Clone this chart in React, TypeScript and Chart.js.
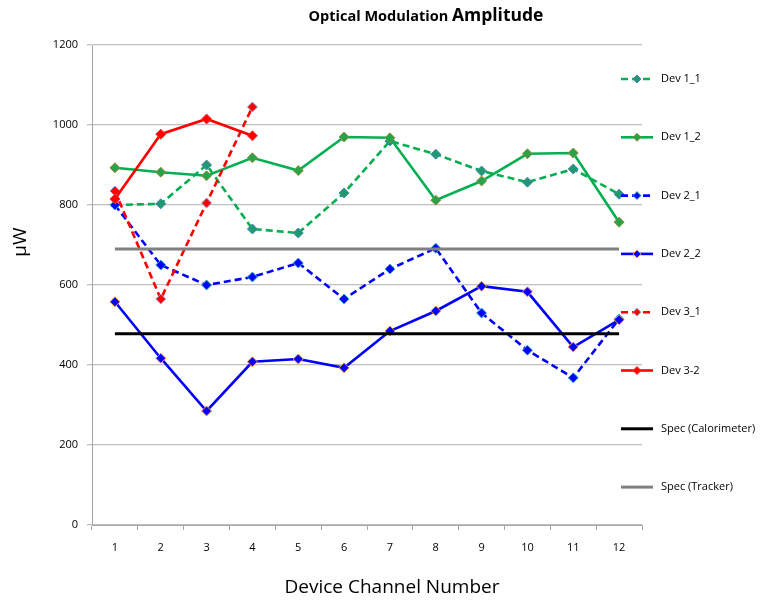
import React, { useEffect, useRef } from 'react';
import { Chart, registerables } from 'chart.js';

Chart.register(...registerables);

const CHANNELS = ['1', '2', '3', '4', '5', '6', '7', '8', '9', '10', '11', '12'];
const DEV1_1 = [800, 803, 900, 740, 730, 830, 960, 927, 885, 857, 890, 827];
const DEV1_2 = [893, 882, 873, 918, 886, 970, 968, 812, 860, 928, 930, 757];
const DEV2_1 = [800, 650, 600, 620, 655, 565, 640, 692, 530, 437, 368, 515];
const DEV2_2 = [558, 417, 285, 408, 415, 393, 485, 535, 597, 583, 445, 513];
const DEV3_1 = [835, 565, 805, 1045, null, null, null, null, null, null, null, null];
const DEV3_2 = [815, 977, 1015, 973, null, null, null, null, null, null, null, null];
const SPEC_CAL = [478, 478, 478, 478, 478, 478, 478, 478, 478, 478, 478, 478];
const SPEC_TRACKER = [690, 690, 690, 690, 690, 690, 690, 690, 690, 690, 690, 690];

const TITLE_A = 'Optical Modulation ';
const TITLE_B = 'Amplitude';
const X_TITLE = 'Device Channel Number';
const Y_TITLE = 'μW';

const FONT = '"Open Sans", Lato, sans-serif';
const GREEN = '#00B050';
const BLUE = '#0000FF';
const RED = '#FF0000';
const DASH = [7, 4];

function series(label: string, data: (number | null)[], color: string, dashed: boolean, fill: string | null, border: string | null, idx: number) {
  return {
    label,
    data,
    borderColor: color,
    backgroundColor: fill || color,
    borderWidth: 2.6,
    borderDash: dashed ? DASH : [],
    pointStyle: 'rectRot',
    pointRadius: fill ? 5 : 0,
    pointHoverRadius: fill ? 5 : 0,
    pointBackgroundColor: fill || color,
    pointBorderColor: border || color,
    pointBorderWidth: 1,
    tension: 0,
    spanGaps: false,
    fill: false,
    order: 10 - idx,
  };
}

const decorPlugin = {
  id: 'decor',
  afterDraw(chart: any) {
    const ctx = chart.ctx as CanvasRenderingContext2D;
    const area = chart.chartArea;
    ctx.save();
    // Title
    ctx.fillStyle = '#000';
    ctx.textBaseline = 'alphabetic';
    ctx.font = `bold 14.5px ${FONT}`;
    const wA = ctx.measureText(TITLE_A).width;
    ctx.font = `bold 17.5px ${FONT}`;
    const wB = ctx.measureText(TITLE_B).width;
    const cx = 426;
    const x = cx - (wA + wB) / 2;
    ctx.textAlign = 'left';
    ctx.font = `bold 14.5px ${FONT}`;
    ctx.fillText(TITLE_A, x, 21);
    ctx.font = `bold 17.5px ${FONT}`;
    ctx.fillText(TITLE_B, x + wA, 21);

    // Axis titles
    ctx.font = `19px ${FONT}`;
    ctx.textAlign = 'center';
    ctx.textBaseline = 'middle';
    ctx.fillText(X_TITLE, 392, 588);
    ctx.save();
    ctx.translate(21, 242);
    ctx.rotate(-Math.PI / 2);
    ctx.fillText(Y_TITLE, 0, 0);
    ctx.restore();

    // Legend
    const ds = chart.data.datasets;
    const x0 = area.right - 21;
    const x1 = area.right + 11;
    const mx = (x0 + x1) / 2;
    const tx = area.right + 19;
    const y0 = area.top + 34;
    const step = 58.3;
    ctx.font = `11px ${FONT}`;
    ctx.textAlign = 'left';
    ctx.textBaseline = 'middle';
    ds.forEach((d: any, i: number) => {
      const y = y0 + i * step;
      ctx.save();
      ctx.strokeStyle = d.borderColor;
      ctx.lineWidth = d.borderWidth;
      ctx.setLineDash(d.borderDash || []);
      ctx.beginPath();
      ctx.moveTo(x0, y);
      ctx.lineTo(x1, y);
      ctx.stroke();
      ctx.setLineDash([]);
      if (d.pointRadius > 0) {
        const r = 4;
        ctx.beginPath();
        ctx.moveTo(mx, y - r);
        ctx.lineTo(mx + r, y);
        ctx.lineTo(mx, y + r);
        ctx.lineTo(mx - r, y);
        ctx.closePath();
        ctx.fillStyle = d.pointBackgroundColor;
        ctx.fill();
        ctx.strokeStyle = d.pointBorderColor;
        ctx.lineWidth = 1;
        ctx.stroke();
      }
      ctx.restore();
      ctx.fillStyle = '#000';
      ctx.fillText(d.label, tx, y);
    });
    ctx.restore();
  },
};

export default function App() {
  const ref = useRef<HTMLCanvasElement>(null);
  useEffect(() => {
    const datasets = [
      series('Dev 1_1', DEV1_1, GREEN, true, '#1E9A6E', '#4F81BD', 0),
      series('Dev 1_2', DEV1_2, GREEN, false, '#27A34A', '#9B8A3A', 1),
      series('Dev 2_1', DEV2_1, BLUE, true, '#0000FF', '#2FB0C0', 2),
      series('Dev 2_2', DEV2_2, BLUE, false, '#0000FF', '#F79646', 3),
      series('Dev 3_1', DEV3_1, RED, true, '#FF0000', '#8EA9DB', 4),
      series('Dev 3-2', DEV3_2, RED, false, '#FF0000', '#FF3030', 5),
      { ...series('Spec (Calorimeter)', SPEC_CAL, '#000000', false, null, null, 6), borderWidth: 3 },
      { ...series('Spec (Tracker)', SPEC_TRACKER, '#808080', false, null, null, 7), borderWidth: 3 },
    ];
    const chart = new Chart(ref.current as HTMLCanvasElement, {
      type: 'line',
      data: { labels: CHANNELS, datasets: datasets as any },
      options: {
        responsive: false,
        animation: false,
        events: [],
        layout: { padding: { top: 45, right: 123, left: 0, bottom: 0 } },
        plugins: {
          legend: { display: false },
          title: { display: false },
          tooltip: { enabled: false },
        },
        scales: {
          x: {
            offset: true,
            grid: { offset: true, drawOnChartArea: false, drawTicks: true, tickLength: 5, color: '#A6A6A6' },
            border: { color: '#A6A6A6', width: 1 },
            ticks: { font: { family: FONT, size: 11 }, color: '#000', padding: 11, maxRotation: 0 },
            afterFit: (s: any) => { s.height = 80; },
          },
          y: {
            min: 0,
            max: 1200,
            ticks: {
              stepSize: 200,
              font: { family: FONT, size: 11 },
              color: '#000',
              padding: 9,
              callback: (v: any) => String(v),
            },
            grid: { color: '#BFBFBF', tickLength: 5, lineWidth: 1.3 },
            border: { color: '#A6A6A6', width: 1 },
            afterFit: (s: any) => { s.width = 92; },
          },
        },
      } as any,
      plugins: [decorPlugin],
    });
    return () => chart.destroy();
  }, []);
  return (
    <canvas
      ref={ref}
      width={765}
      height={605}
      style={{ position: 'fixed', left: 0, top: 0, width: 765, height: 605, background: '#fff' }}
    />
  );
}
